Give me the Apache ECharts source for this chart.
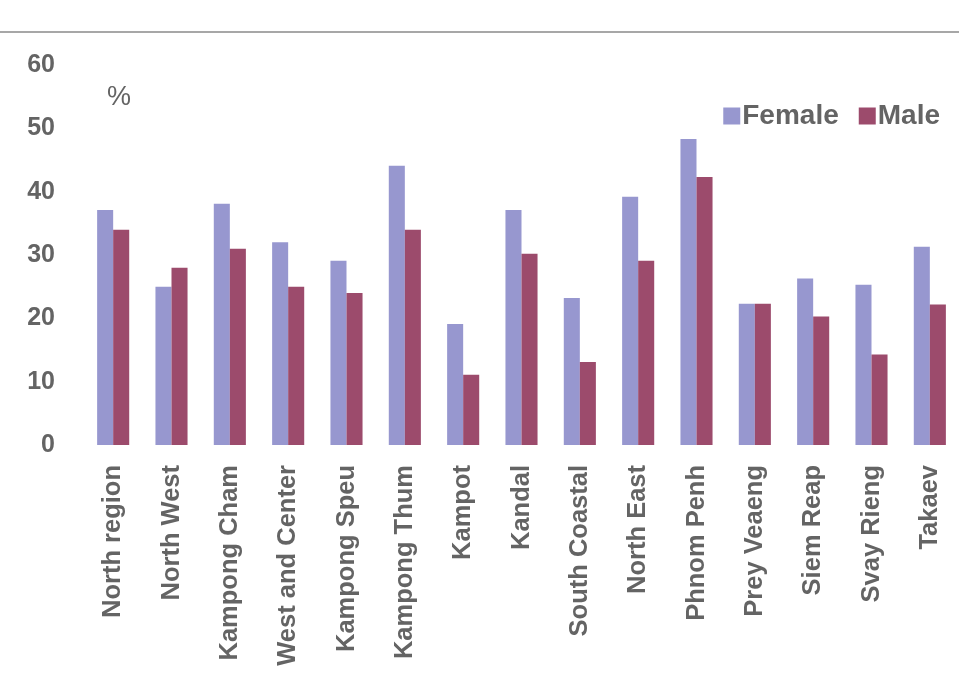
<!DOCTYPE html>
<html>
<head>
<meta charset="utf-8">
<script src="https://cdn.jsdelivr.net/npm/echarts@6/dist/echarts.min.js"></script>
<style>
  html, body { margin: 0; padding: 0; background: #fff; }
  #chart { width: 959px; height: 686px; }
</style>
</head>
<body>
<div id="chart"></div>
<script>
// Regions along the x axis
const regions = [
  'North region', 'North West', 'Kampong Cham', 'West and Center', 'Kampong Speu',
  'Kampong Thum', 'Kampot', 'Kandal', 'South Coastal', 'North East',
  'Phnom Penh', 'Prey Veaeng', 'Siem Reap', 'Svay Rieng', 'Takaev'
];

// Percentages by sex
const female = [37.1, 25.0, 38.1, 32.0, 29.1, 44.1, 19.1, 37.1, 23.2, 39.2, 48.3, 22.3, 26.3, 25.3, 31.3];
const male   = [34.0, 28.0, 31.0, 25.0, 24.0, 34.0, 11.1, 30.2, 13.1, 29.1, 42.3, 22.3, 20.3, 14.3, 22.2];

// Value axis ticks
const yTicks = [0, 10, 20, 30, 40, 50, 60];

const textColor = '#646464';
const fontFamily = '"Liberation Sans", Arial, sans-serif';

const chart = echarts.init(document.getElementById('chart'), null, { renderer: 'canvas' });

chart.setOption({
  backgroundColor: '#ffffff',
  animation: false,
  textStyle: { fontFamily: fontFamily },
  graphic: [
    {
      type: 'line',
      shape: { x1: 0, y1: 32, x2: 959, y2: 32 },
      style: { stroke: '#8a8a8a', lineWidth: 1.5 }
    },
    {
      type: 'text',
      left: 107,
      top: 84,
      style: { text: '%', fill: textColor, font: '27px ' + fontFamily }
    }
  ],
  legend: {
    data: ['Female', 'Male'],
    right: 14,
    top: 97,
    itemWidth: 17,
    itemHeight: 17,
    itemGap: 20,
    icon: 'rect',
    textStyle: { color: textColor, fontSize: 28, fontWeight: 'bold', fontFamily: fontFamily, padding: [0, 0, 0, -3] }
  },
  grid: { left: 84, right: -2, top: 65, bottom: 241 },
  xAxis: {
    type: 'category',
    data: regions,
    axisLine: { show: false },
    axisTick: { show: false },
    axisLabel: {
      rotate: 90,
      interval: 0,
      margin: 20,
      color: textColor,
      fontSize: 25.5,
      fontWeight: 'bold',
      fontFamily: fontFamily
    }
  },
  yAxis: {
    type: 'value',
    min: yTicks[0],
    max: yTicks[yTicks.length - 1],
    interval: 10,
    axisLine: { show: false },
    axisTick: { show: false },
    splitLine: { show: false },
    axisLabel: {
      margin: 29,
      color: textColor,
      fontSize: 25,
      fontWeight: 'bold',
      fontFamily: fontFamily
    }
  },
  series: [
    {
      name: 'Female',
      type: 'bar',
      data: female,
      barGap: '0%',
      barCategoryGap: '45%',
      itemStyle: { color: '#9797cf' }
    },
    {
      name: 'Male',
      type: 'bar',
      data: male,
      itemStyle: { color: '#9c4b6c' }
    }
  ]
});
</script>
</body>
</html>
